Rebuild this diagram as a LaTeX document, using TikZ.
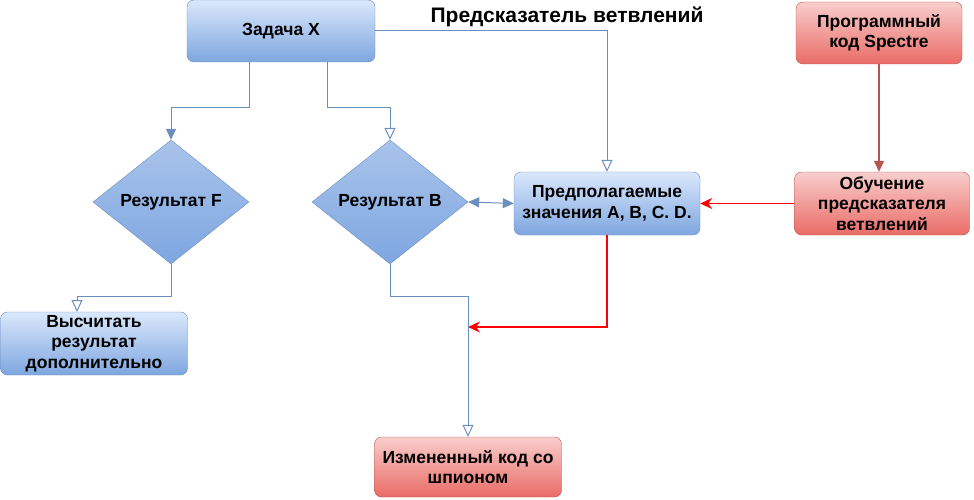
\documentclass[tikz,border=0pt]{standalone}
\usepackage{fontspec}
\setmainfont{Liberation Sans}
\usetikzlibrary{shapes.geometric,arrows.meta}
\definecolor{bl}{HTML}{7EA6E0}
\definecolor{bltop}{HTML}{DAE8FC}
\definecolor{blbot}{HTML}{7EA6E0}
\definecolor{blmid}{HTML}{A9C4EB}
\definecolor{bldr}{HTML}{6C8EBF}
\definecolor{rdtop}{HTML}{F8CECC}
\definecolor{rdbot}{HTML}{EA6B66}
\definecolor{rddr}{HTML}{B85450}
\begin{document}
\begin{tikzpicture}[x=1pt,y=-1pt,
  txt/.style={font=\fontsize{17.5}{20.5}\selectfont\bfseries,align=center},
  bbox/.style={txt,rectangle,rounded corners=7pt,draw=bldr,top color=bltop,bottom color=blbot,inner sep=1pt},
  rbox/.style={txt,rectangle,rounded corners=7pt,draw=rddr,top color=rdtop,bottom color=rdbot,inner sep=1pt},
  dia/.style={txt,diamond,draw=bldr,top color=blmid,bottom color=blbot,minimum width=156pt,minimum height=124pt,aspect=1.26,inner sep=0pt},
  bl/.style={draw=bldr,line width=1pt},
  fa/.style={-{Triangle[length=11pt,width=10pt]}},
  oa/.style={-{Triangle[open,length=12pt,width=11pt,fill=white]}},
  rl/.style={draw=red,line width=1.4pt,-{Stealth[length=12pt,width=11pt]}}]
\useasboundingbox (0,0) rectangle (974,500);
\node[bbox,minimum width=188pt,minimum height=62pt] (zx) at (281,31) {Задача X};
\node[txt,font=\fontsize{21}{24}\selectfont\bfseries] (title) at (567,17) {Предсказатель ветвлений};
\node[rbox,minimum width=166pt,minimum height=62pt] (spec) at (879,33) {Программный\\код Spectre};
\node[dia] (f) at (171,202) {Результат F};
\node[dia] (b) at (390,202) {Результат B};
\node[bbox,minimum width=186pt,minimum height=63pt] (pr) at (607,203.5) {Предполагаемые\\значения A, B, C. D.};
\node[rbox,minimum width=175pt,minimum height=63pt] (ob) at (882,203.5) {Обучение\\предсказателя\\ветвлений};
\node[bbox,minimum width=187pt,minimum height=63pt] (vy) at (94,343.5) {Высчитать\\результат\\дополнительно};
\node[rbox,minimum width=187pt,minimum height=60pt] (iz) at (468,467) {Измененный код со\\шпионом};
\coordinate (m) at (468,327);

\draw[bl,oa] (zx.east) -| (pr.north);
\draw[bl,fa] (249,62) |- (171,108) -- (f.north);
\draw[bl,oa] (327,62) |- (390,108) -- (b.north);
\draw[bl,{Triangle[length=11pt,width=10pt]}-{Triangle[length=11pt,width=10pt]}] (b.east) -- (pr.west);
\draw[rddr,line width=1.2pt,-{Triangle[length=11pt,width=10pt]}] (spec.south) -- (spec.south |- ob.north);
\draw[rl] (ob.west) -- (pr.east);
\draw[rl] (pr.south) |- (m);
\draw[bl,oa] (f.south) |- (77,296) -- (77,312);
\draw[bl,oa] (b.south) |- (468,296) -- (iz.north);
\end{tikzpicture}
\end{document}
